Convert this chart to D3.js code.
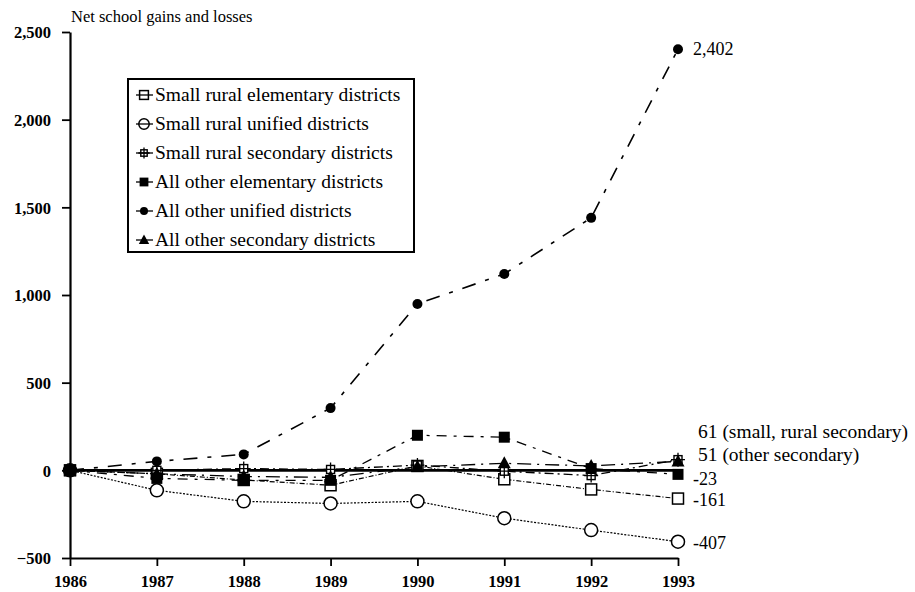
<!DOCTYPE html>
<html><head><meta charset="utf-8">
<script src="https://cdn.jsdelivr.net/npm/d3@7/dist/d3.min.js"></script>
<style>body{margin:0;background:#fff}svg{display:block}text{font-family:"Liberation Serif","Times New Roman",serif;fill:#000}</style>
</head><body><svg id="c" width="915" height="592"></svg>
<script>
const years = [1986,1987,1988,1989,1990,1991,1992,1993];
const smallRuralElementary = [0,-20,-55,-85,25,-51,-109,-161];
const smallRuralUnified = [0,-114,-177,-189,-177,-273,-341,-407];
const smallRuralSecondary = [0,0,10,5,30,-5,-30,61];
const otherElementary = [0,-46,-57,-57,200,189,10,-23];
const otherUnified = [0,51,91,355,949,1120,1440,2402];
const otherSecondary = [0,-20,-35,-40,20,40,25,51];
const seriesNames = ["Small rural elementary districts","Small rural unified districts","Small rural secondary districts","All other elementary districts","All other unified districts","All other secondary districts"];
const yTicks = [-500,0,500,1000,1500,2000,2500];
const endLabels = [
  {text:"2,402", value:2402},
  {text:"61 (small, rural secondary)", value:218},
  {text:"51 (other secondary)", value:90},
  {text:"-23", value:-52},
  {text:"-161", value:-170},
  {text:"-407", value:-412}
];
const titleText = "Net school gains and losses";

const series = [
  {name:seriesNames[0], values:smallRuralElementary, marker:"osq", dash:"5,2,1,2", w:1.2},
  {name:seriesNames[1], values:smallRuralUnified, marker:"ocirc", dash:"2,1.5", w:1.2},
  {name:seriesNames[2], values:smallRuralSecondary, marker:"star", dash:"9,4,2,4", w:1.3},
  {name:seriesNames[3], values:otherElementary, marker:"fsq", dash:"10,7,3,7", w:1.3},
  {name:seriesNames[4], values:otherUnified, marker:"fcirc", dash:"14,10,4,10", w:1.6},
  {name:seriesNames[5], values:otherSecondary, marker:"tri", dash:"14,6,2,6", w:1.3}
];

const svg = d3.select("#c");
const x = d3.scalePoint().domain(years).range([70,678]);
const y = d3.scaleLinear().domain([-500,2500]).range([558,32]);

// axes
const yAxis = d3.axisLeft(y).tickValues(yTicks).tickSize(8).tickSizeOuter(0).tickFormat(d3.format(","));
const gy = svg.append("g").attr("transform","translate(70,0)").call(yAxis);
const xAxis = d3.axisBottom(x).tickSize(8).tickSizeOuter(0).tickFormat(d3.format("d"));
const gx = svg.append("g").attr("transform","translate(0,558)").call(xAxis);
[gy,gx].forEach(g=>{
  g.select(".domain").attr("stroke","#000").attr("stroke-width",2.2);
  g.selectAll(".tick line").attr("stroke","#000").attr("stroke-width",1.8);
  g.selectAll(".tick text").style("font-family",'"Liberation Serif",serif').style("font-size","16.5px").style("font-weight","bold").attr("fill","#000");
});
gy.selectAll(".tick text").attr("x",-19).attr("dy","0.36em");
gx.selectAll(".tick text").attr("y",17);

svg.append("text").attr("x",71).attr("y",22).style("font-size","16.5px").text(titleText);

// zero line
svg.append("line").attr("x1",x(years[0])).attr("x2",x(years[years.length-1]))
  .attr("y1",y(0)).attr("y2",y(0)).attr("stroke","#000").attr("stroke-width",2.6);

function drawMarker(g, type, cx, cy, s){
  s = s||1;
  if(type==="osq") g.append("rect").attr("x",cx-5.5*s).attr("y",cy-5.5*s).attr("width",11*s).attr("height",11*s).attr("fill","#fff").attr("stroke","#000").attr("stroke-width",1.5);
  else if(type==="fsq") g.append("rect").attr("x",cx-5.5*s).attr("y",cy-5.5*s).attr("width",11*s).attr("height",11*s).attr("fill","#000");
  else if(type==="ocirc") g.append("circle").attr("cx",cx).attr("cy",cy).attr("r",6.5*s).attr("fill","#fff").attr("stroke","#000").attr("stroke-width",1.5);
  else if(type==="fcirc") g.append("circle").attr("cx",cx).attr("cy",cy).attr("r",5*s).attr("fill","#000");
  else if(type==="tri") g.append("path").attr("d",`M${cx},${cy-7*s}L${cx+6.5*s},${cy+5*s}L${cx-6.5*s},${cy+5*s}Z`).attr("fill","#000");
  else if(type==="star"){
    g.append("rect").attr("x",cx-4*s).attr("y",cy-4*s).attr("width",8*s).attr("height",8*s).attr("fill","#fff").attr("stroke","#000").attr("stroke-width",1.4);
    g.append("path").attr("d",`M${cx},${cy-7*s}V${cy+7*s}M${cx-7*s},${cy}H${cx+7*s}`).attr("stroke","#000").attr("stroke-width",1.3);
  }
}

const line = d3.line().x((d,i)=>x(years[i])).y(d=>y(d));
const plot = svg.append("g");
series.forEach(s=>{
  plot.append("path").datum(s.values).attr("d",line).attr("fill","none")
    .attr("stroke","#000").attr("stroke-width",s.w).attr("stroke-dasharray",s.dash);
});
[1,0,2,3,5,4].forEach(k=>{
  const s = series[k];
  const g = plot.append("g");
  s.values.forEach((v,i)=>drawMarker(g,s.marker,x(years[i]),y(v)));
});

// legend
const lg = svg.append("g");
lg.append("rect").attr("x",128).attr("y",79).attr("width",286).attr("height",173).attr("fill","#fff").attr("stroke","#000").attr("stroke-width",2);
series.forEach((s,i)=>{
  const cy = 95 + i*29;
  drawMarker(lg,s.marker,144,cy,0.8);
  lg.append("line").attr("x1",136).attr("x2",153).attr("y1",cy).attr("y2",cy).attr("stroke","#000").attr("stroke-width",1.3);
  lg.append("text").attr("x",155).attr("y",cy+6).style("font-size","19.5px").text(s.name);
});

// end labels
endLabels.forEach(l=>{
  svg.append("text").attr("x",l.text.length>5?698:693).attr("y",y(l.value)+6)
    .style("font-size",l.text.length>5?"19.5px":"18px").text(l.text);
});
</script></body></html>
